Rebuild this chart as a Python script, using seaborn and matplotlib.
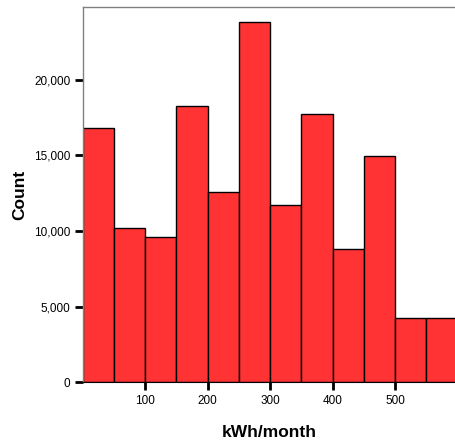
import numpy as np
import pandas as pd
import matplotlib
matplotlib.use("Agg")
import matplotlib.pyplot as plt
import seaborn as sns
from matplotlib.ticker import FuncFormatter

bin_edges = [0, 50, 100, 150, 200, 250, 300, 350, 400, 450, 500, 550, 600]
counts = [16780, 10210, 9620, 18250, 12550, 23820, 11690, 17720, 8790, 14970, 4270, 4270]
x_ticks = [100, 200, 300, 400, 500]
y_ticks = [0, 5000, 10000, 15000, 20000]

centers = [(a + b) / 2 for a, b in zip(bin_edges[:-1], bin_edges[1:])]
df = pd.DataFrame({"kwh": centers, "count": counts})

sns.set_style("white")
plt.rcParams["font.family"] = ["Liberation Sans", "DejaVu Sans"]
plt.rcParams["text.color"] = "black"
plt.rcParams["axes.labelcolor"] = "black"
plt.rcParams["xtick.color"] = "black"
plt.rcParams["ytick.color"] = "black"

fig = plt.figure(figsize=(4.55, 4.47), dpi=100)
ax = fig.add_axes([0.182, 0.1447, 0.818, 0.839])

sns.histplot(data=df, x="kwh", weights="count", bins=bin_edges, ax=ax,
             color="#FF3333", alpha=1, edgecolor="black", linewidth=1)

ax.set_xlim(0, 596)
ax.set_ylim(0, 24770)
ax.set_xticks(x_ticks)
ax.set_yticks(y_ticks)
ax.yaxis.set_major_formatter(FuncFormatter(lambda v, p: f"{int(v):,}"))
ax.tick_params(axis="both", direction="out", length=6, width=2, colors="black",
               labelsize=8.5, pad=3, bottom=True, left=True)

ax.set_xlabel("kWh/month", fontsize=12.5, fontweight="bold", labelpad=13)
ax.set_ylabel("Count", fontsize=12.5, fontweight="bold", labelpad=5)

for s in ["left", "top"]:
    ax.spines[s].set_color("#808080")
    ax.spines[s].set_linewidth(1)
ax.spines["bottom"].set_color("black")
ax.spines["right"].set_visible(False)

fig.savefig("out.png", dpi=100)
